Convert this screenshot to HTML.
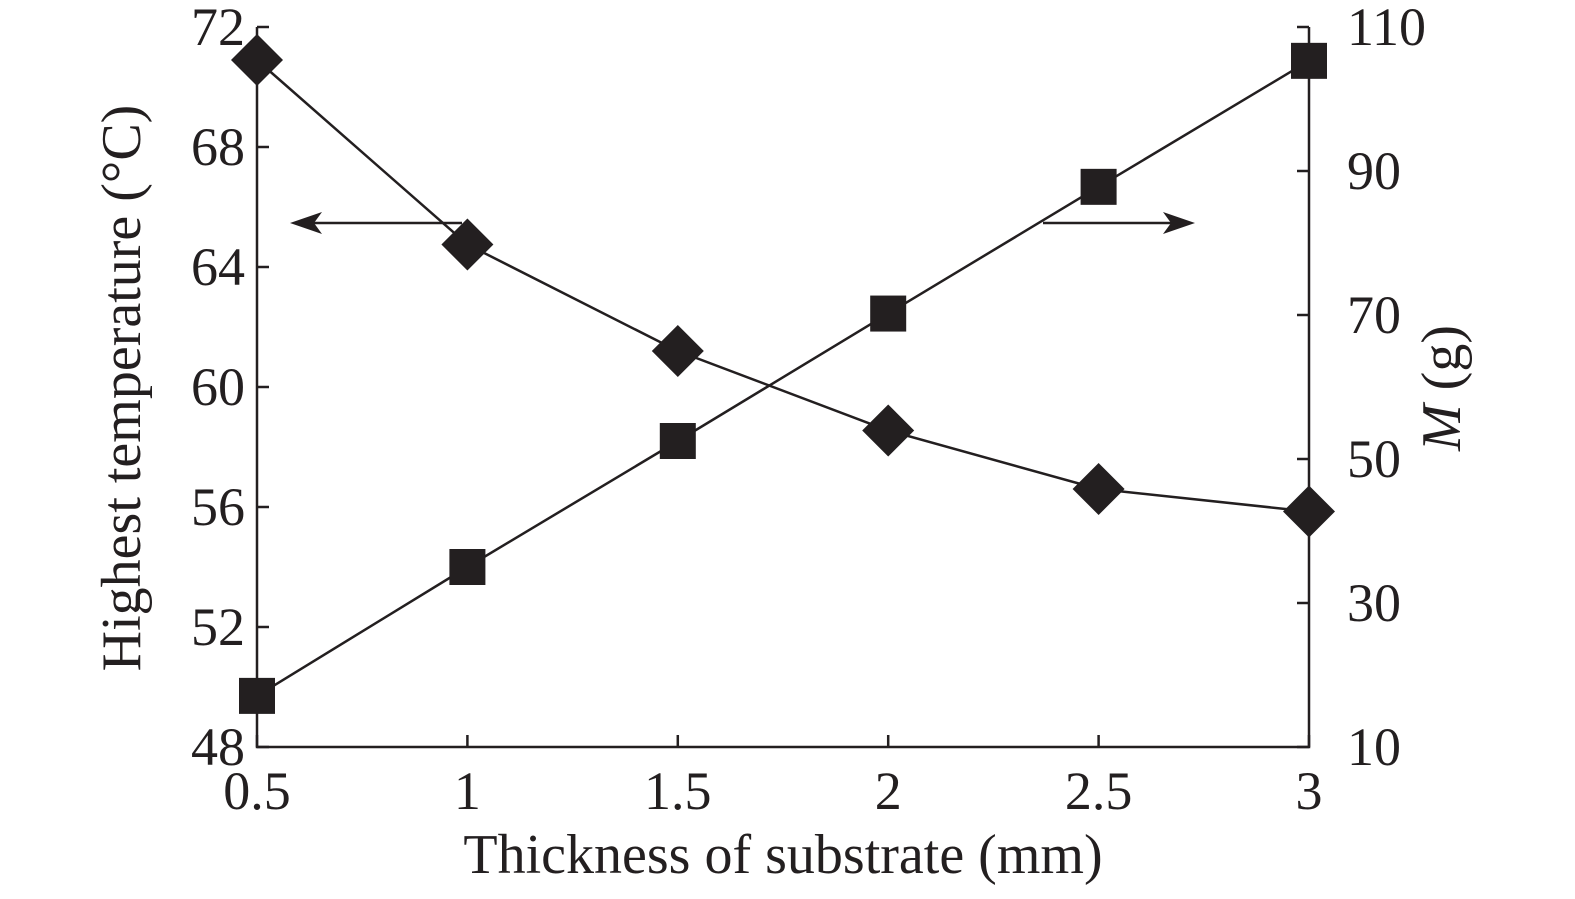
<!DOCTYPE html>
<html><head><meta charset="utf-8"><style>
html,body{margin:0;padding:0;background:#fff}
svg text{font-family:"Liberation Serif",serif;fill:#231f20}
</style></head><body>
<svg id="chart" width="1575" height="894" xmlns="http://www.w3.org/2000/svg"></svg>
<script>
const xCats=[0.5,1,1.5,2,2.5,3];
const xTickLabels=["0.5","1","1.5","2","2.5","3"];
const tempVals=[70.9,64.75,61.2,58.55,56.6,55.85];
const massVals=[17.1,35.0,52.5,70.2,87.8,105.3];
const leftTicks=[48,52,56,60,64,68,72];
const rightTicks=[10,30,50,70,90,110];
const NS="http://www.w3.org/2000/svg";
const svg=document.getElementById('chart');
const X0=257,X1=1309,Y0=747,Y1=27;
const xs=v=>X0+(v-0.5)/(3-0.5)*(X1-X0);
const yl=v=>Y0-(v-48)/(72-48)*(Y0-Y1);
const yr=v=>Y0-(v-10)/(110-10)*(Y0-Y1);
const C="#231f20";
function mk(t,a){const e=document.createElementNS(NS,t);for(const k in a)e.setAttribute(k,a[k]);svg.appendChild(e);return e;}
let e=mk('path',{d:`M${X0},${Y1}V${Y0}H${X1}V${Y1}`,fill:'none',stroke:C,'stroke-width':2.5});

leftTicks.forEach(v=>{const y=yl(v);
 let t=mk('line',{x1:X0,x2:X0+12,y1:y,y2:y,stroke:C,'stroke-width':2.5});
 
 let l=mk('text',{x:X0-12,y:y+18,'text-anchor':'end','font-size':54});l.textContent=v;
 });
rightTicks.forEach(v=>{const y=yr(v);
 let t=mk('line',{x1:X1-12,x2:X1,y1:y,y2:y,stroke:C,'stroke-width':2.5});
 
 let l=mk('text',{x:X1+38,y:y+18,'font-size':54});l.textContent=v;
 });
xCats.forEach((v,i)=>{const x=xs(v);
 let t=mk('line',{x1:x,x2:x,y1:Y0-12,y2:Y0,stroke:C,'stroke-width':2.5});
 
 let l=mk('text',{x:x,y:Y0+62,'text-anchor':'middle','font-size':54});l.textContent=xTickLabels[i];
 });
let tl=mk('polyline',{points:xCats.map((v,i)=>xs(v)+','+yl(tempVals[i])).join(' '),fill:'none',stroke:C,'stroke-width':2.5});

let ml=mk('polyline',{points:xCats.map((v,i)=>xs(v)+','+yr(massVals[i])).join(' '),fill:'none',stroke:C,'stroke-width':2.5});

xCats.forEach((v,i)=>{const x=xs(v),y=yl(tempVals[i]),r=26;
 let d=mk('polygon',{points:`${x},${y-r} ${x+r},${y} ${x},${y+r} ${x-r},${y}`,fill:C});
 });
xCats.forEach((v,i)=>{const x=xs(v),y=yr(massVals[i]),s=36;
 let d=mk('rect',{x:x-s/2,y:y-s/2,width:s,height:s,fill:C});
 });
let a1=mk('line',{x1:300,x2:462,y1:223,y2:223,stroke:C,'stroke-width':2.5});

let h1=mk('polygon',{points:'290,223 322,212 314,223 322,234',fill:C});

let a2=mk('line',{x1:1043,x2:1185,y1:223,y2:223,stroke:C,'stroke-width':2.5});

let h2=mk('polygon',{points:'1195,223 1163,212 1171,223 1163,234',fill:C});

let xt=mk('text',{x:783,y:873,'text-anchor':'middle','font-size':56});xt.textContent='Thickness of substrate (mm)';

let yt=mk('text',{x:0,y:0,'text-anchor':'middle','font-size':56,transform:'translate(140,388) rotate(-90)'});yt.textContent='Highest temperature (°C)';

let rt=mk('text',{x:0,y:0,'text-anchor':'middle','font-size':56,transform:'translate(1460,388) rotate(-90)'});
rt.innerHTML='<tspan font-style="italic">M</tspan> (g)';

</script>
</body></html>
